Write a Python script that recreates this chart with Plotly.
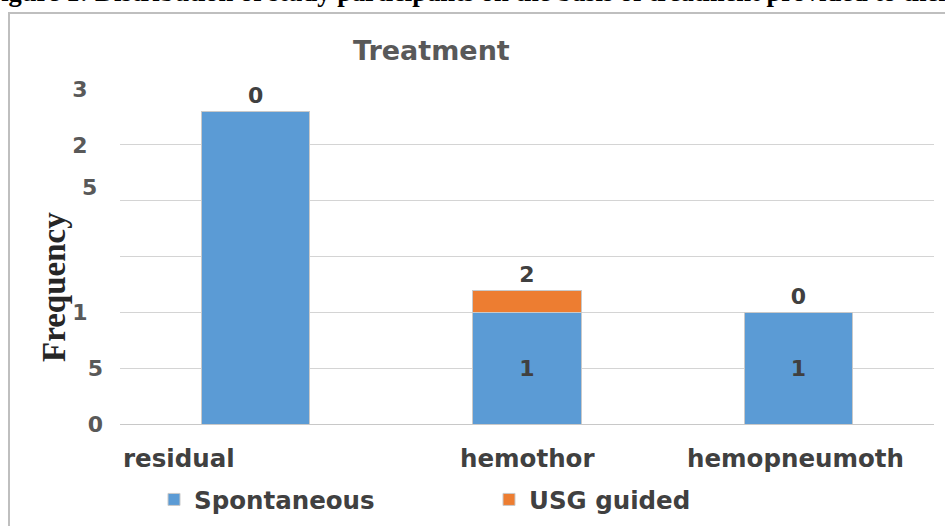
import plotly.graph_objects as go

categories = ["residual", "hemothor", "hemopneumoth"]
spontaneous = [28, 10, 10]
usg_guided = [0, 2, 0]
spont_labels = ["", "1", "1"]
usg_labels = ["0", "2", "0"]
y_tickvals = [0, 5, 10, 15, 20, 25, 30]
y_ticktext = ["0", "5", "1\u00a0\u00a0", "", "", "2\u00a0\u00a0", "3\u00a0\u00a0"]
cat_shift = [-77, 0, -3]

W, H = 945, 526
ML, MR, MT, MB = 120, 11, 89, 102
pw = W - ML - MR
ph = H - MT - MB

def px_x(p):
    return (p - ML) / pw

def px_y(p):
    return (H - MB - p) / ph

blue = "#5b9bd5"
orange = "#ed7d31"
bold_lab = dict(family="DejaVu Sans", size=22, color="#404040", weight="bold")

fig = go.Figure()
fig.add_trace(go.Bar(
    x=categories, y=spontaneous, name="Spontaneous",
    marker=dict(color=blue, line=dict(color="#c9c9c9", width=1)),
    text=spont_labels, textposition="inside", insidetextanchor="middle",
    textfont=bold_lab, hoverinfo="skip",
))
fig.add_trace(go.Bar(
    x=categories, y=usg_guided, name="USG guided",
    marker=dict(color=orange, line=dict(color="#c9c9c9", width=1)),
    text=usg_labels, textposition="outside",
    textfont=bold_lab, cliponaxis=False, hoverinfo="skip",
))

annotations = []
for c, s in zip(categories, cat_shift):
    annotations.append(dict(x=c, xref="x", y=px_y(458), yref="paper", yanchor="middle",
                            xanchor="center", text=c, showarrow=False, xshift=s,
                            font=dict(family="DejaVu Sans", size=24.5, color="#404040", weight="bold")))
annotations.append(dict(x=px_x(99), xref="paper", xanchor="right", y=px_y(187), yref="paper",
                        yanchor="middle", text="5", showarrow=False,
                        font=dict(family="DejaVu Sans", size=22, color="#595959", weight="bold")))
annotations.append(dict(x=px_x(54), xref="paper", xanchor="center", y=px_y(287), yref="paper",
                        yanchor="middle", text="Frequency", textangle=-90, showarrow=False,
                        font=dict(family="Liberation Serif", size=33, color="#262626", weight="bold")))
annotations.append(dict(x=px_x(431), xref="paper", xanchor="center", y=px_y(50), yref="paper",
                        yanchor="middle", text="Treatment", showarrow=False,
                        font=dict(family="DejaVu Sans", size=27, color="#595959", weight="bold")))
annotations.append(dict(x=px_x(-17), xref="paper", xanchor="left", y=px_y(-8), yref="paper",
                        yanchor="middle",
                        text="Figure 1: Distribution of study participants on the basis of treatment provided to them",
                        showarrow=False,
                        font=dict(family="Liberation Serif", size=26.5, color="#000000", weight="bold")))

fig.update_layout(
    width=W, height=H,
    margin=dict(l=ML, r=MR, t=MT, b=MB, autoexpand=False),
    barmode="stack", bargap=0.6,
    plot_bgcolor="white", paper_bgcolor="white",
    showlegend=True,
    legend=dict(orientation="h", xref="container", yref="container",
                x=154 / W, xanchor="left", y=1 - 477 / H, yanchor="top",
                font=dict(family="DejaVu Sans", size=24.5, color="#404040", weight="bold"),
                entrywidth=290, itemwidth=30, traceorder="normal"),
    annotations=annotations,
    shapes=[dict(type="rect", xref="paper", yref="paper",
                 x0=px_x(9), x1=px_x(980), y0=px_y(560), y1=px_y(13),
                 line=dict(color="#bfbfbf", width=2), layer="below")],
    xaxis=dict(showticklabels=False, showgrid=False, showline=True, linecolor="#c8c8c8",
               linewidth=1, range=[-0.5, 2.5], ticks="", automargin=False),
    yaxis=dict(range=[0, 30], tickvals=y_tickvals, ticktext=y_ticktext,
               showgrid=True, gridcolor="#d4d4d4", gridwidth=1, zeroline=False,
               ticklabelstandoff=16, automargin=False,
               tickfont=dict(family="DejaVu Sans", size=22, color="#595959", weight="bold")),
)

fig.write_html("out.html", config={"displayModeBar": False},
               post_script="document.body.style.margin='0px';")
